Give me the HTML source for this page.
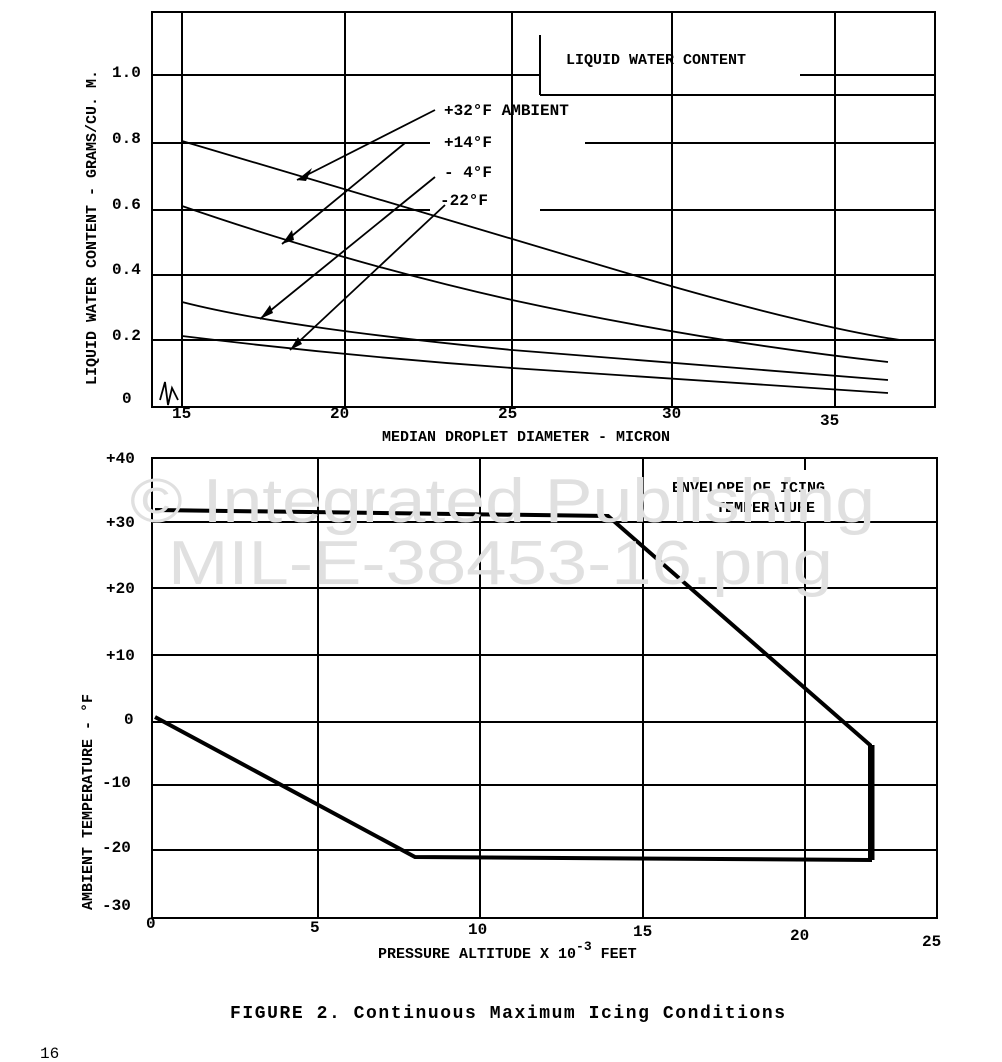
<!DOCTYPE html>
<html><head><meta charset="utf-8"><style>
html,body{margin:0;padding:0;background:#fff}
svg{display:block}
text{font-family:"Liberation Mono",monospace;fill:#000;font-weight:bold}
</style></head><body>
<svg width="1002" height="1062" viewBox="0 0 1002 1062" xmlns="http://www.w3.org/2000/svg">
<!-- TOP CHART -->
<g stroke="#000" stroke-width="2" fill="none">
<rect x="152" y="12" width="783" height="395"/>
<line x1="182" y1="12" x2="182" y2="407"/>
<line x1="345" y1="12" x2="345" y2="407"/>
<line x1="512" y1="12" x2="512" y2="407"/>
<line x1="672" y1="12" x2="672" y2="407"/>
<line x1="835" y1="12" x2="835" y2="407"/>
<line x1="152" y1="75" x2="540" y2="75"/>
<line x1="800" y1="75" x2="935" y2="75"/>
<line x1="152" y1="143" x2="430" y2="143"/>
<line x1="585" y1="143" x2="935" y2="143"/>
<line x1="152" y1="210" x2="430" y2="210"/>
<line x1="540" y1="210" x2="935" y2="210"/>
<line x1="152" y1="275" x2="935" y2="275"/>
<line x1="152" y1="340" x2="935" y2="340"/>
<line x1="540" y1="95" x2="935" y2="95"/>
<line x1="540" y1="35" x2="540" y2="95"/>
</g>
<g stroke="#000" stroke-width="1.8" fill="none">
<path d="M182,141 C330,185 500,235 650,280 C760,312 850,333 900,340"/>
<path d="M182,206 C280,240 400,275 512,300 C650,330 780,350 888,362"/>
<path d="M182,302 C260,322 380,337 512,350 C650,362 780,372 888,380"/>
<path d="M182,336 C280,348 400,360 512,368 C650,378 780,386 888,393"/>
<line x1="435" y1="110" x2="297" y2="180"/>
<line x1="405" y1="143" x2="282" y2="244"/>
<line x1="435" y1="177" x2="260" y2="319"/>
<line x1="445" y1="205" x2="290" y2="350"/>
<path d="M160,400 L165,382 L168,405 L172,388 L178,400"/>
</g>
<g fill="#000">
<polygon points="297,180 312,168 306,181"/>
<polygon points="282,244 292,230 294,240"/>
<polygon points="260,319 270,305 273,313"/>
<polygon points="290,350 298,337 302,344"/>
</g>
<text x="566" y="64" font-size="15">LIQUID WATER CONTENT</text>
<text x="444" y="115" font-size="16">+32°F  AMBIENT</text>
<text x="444" y="147" font-size="16">+14°F</text>
<text x="444" y="177" font-size="16">- 4°F</text>
<text x="440" y="205" font-size="16">-22°F</text>
<g font-size="16">
<text x="112" y="77">1.0</text><text x="112" y="143">0.8</text><text x="112" y="209">0.6</text>
<text x="112" y="274">0.4</text><text x="112" y="340">0.2</text><text x="122" y="403">0</text>
<text x="172" y="418">15</text><text x="330" y="418">20</text><text x="498" y="418">25</text>
<text x="662" y="418">30</text><text x="820" y="425">35</text>
</g>
<text x="382" y="441" font-size="15">MEDIAN DROPLET DIAMETER - MICRON</text>
<text transform="translate(96,385) rotate(-90)" font-size="15">LIQUID WATER CONTENT - GRAMS/CU. M.</text>
<!-- BOTTOM CHART -->
<g stroke="#000" stroke-width="2" fill="none">
<rect x="152" y="458" width="785" height="460"/>
<line x1="318" y1="458" x2="318" y2="918"/>
<line x1="480" y1="458" x2="480" y2="918"/>
<line x1="643" y1="458" x2="643" y2="918"/>
<line x1="805" y1="458" x2="805" y2="918"/>
<line x1="152" y1="522" x2="937" y2="522"/>
<line x1="152" y1="588" x2="937" y2="588"/>
<line x1="152" y1="655" x2="937" y2="655"/>
<line x1="152" y1="722" x2="937" y2="722"/>
<line x1="152" y1="785" x2="937" y2="785"/>
<line x1="152" y1="850" x2="937" y2="850"/>
</g>
<rect x="660" y="470" width="210" height="50" fill="#fff"/>
<path d="M155,510 L608,516 L870,745 L870,860 L415,857 L155,717" stroke="#000" stroke-width="4" fill="none"/>
<line x1="872" y1="745" x2="872" y2="860" stroke="#000" stroke-width="5"/>
<text x="672" y="492" font-size="15">ENVELOPE OF ICING</text>
<text x="716" y="512" font-size="15">TEMPERATURE</text>
<g font-size="16">
<text x="106" y="463">+40</text><text x="106" y="527">+30</text><text x="106" y="593">+20</text>
<text x="106" y="660">+10</text><text x="124" y="724">0</text><text x="102" y="787">-10</text>
<text x="102" y="852">-20</text><text x="102" y="910">-30</text>
<text x="146" y="928">0</text><text x="310" y="932">5</text><text x="468" y="934">10</text>
<text x="633" y="936">15</text><text x="790" y="940">20</text><text x="922" y="946">25</text>
</g>
<text x="378" y="958" font-size="15">PRESSURE ALTITUDE X 10<tspan dy="-8" font-size="13">-3</tspan><tspan dy="8"> FEET</tspan></text>
<text transform="translate(92,910) rotate(-90)" font-size="15">AMBIENT TEMPERATURE - °F</text>
<!-- watermark -->
<text x="130" y="522" font-size="62" textLength="745" lengthAdjust="spacingAndGlyphs" style="fill:#e0e0e0;font-family:'Liberation Sans',sans-serif;font-weight:normal">© Integrated Publishing</text>
<text x="168" y="584" font-size="62" textLength="665" lengthAdjust="spacingAndGlyphs" style="fill:#e0e0e0;font-family:'Liberation Sans',sans-serif;font-weight:normal">MIL-E-38453-16.png</text>
<text x="230" y="1018" font-size="18" textLength="555" lengthAdjust="spacing">FIGURE 2.  Continuous Maximum Icing Conditions</text>
<text x="40" y="1058" font-size="16" style="font-weight:normal">16</text>
</svg>
</body></html>
